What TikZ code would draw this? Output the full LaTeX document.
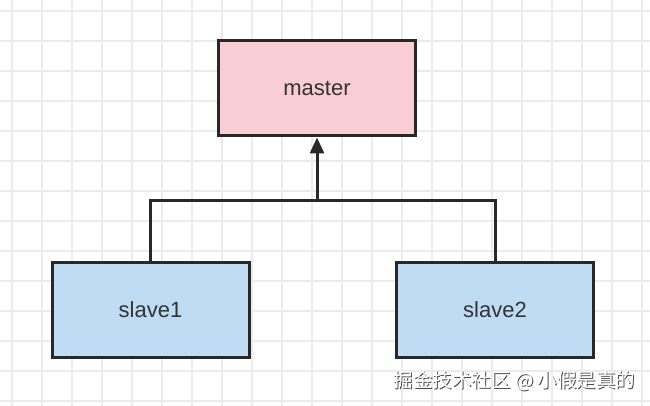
\documentclass[tikz,border=0pt]{standalone}
\usepackage{fontspec}
\setmainfont{Liberation Sans}
\newfontfamily\cjk{Noto Sans CJK SC}
\usetikzlibrary{arrows.meta}
\definecolor{gridc}{RGB}{235,235,235}
\definecolor{pinkf}{RGB}{248,206,212}
\definecolor{bluef}{RGB}{191,220,245}
\definecolor{edgec}{RGB}{40,40,40}
\begin{document}
\begin{tikzpicture}[x=1pt,y=-1pt,
  boxn/.style={draw=edgec,line width=3pt,minimum width=197pt,minimum height=95pt,inner sep=0pt,font=\fontsize{22}{24}\selectfont,text=black!80},
  conn/.style={draw=edgec,line width=3pt}]
\fill[white] (0,0) rectangle (650,406);
\useasboundingbox (0,0) rectangle (650,406);
\foreach \x in {12,42,...,642} \draw[gridc,line width=1.2pt] (\x,0) -- (\x,406);
\foreach \y in {11,41,...,401} \draw[gridc,line width=1.2pt] (0,\y) -- (650,\y);
\node[boxn,fill=pinkf] (m) at (317,88.5) {master};
\node[boxn,fill=bluef] (s1) at (150.5,309.5) {slave1};
\node[boxn,fill=bluef] (s2) at (495,309.5) {slave2};
\coordinate (j) at (317,200);
\draw[conn] (s1.north) |- (j) -| (s2.north);
\draw[conn,-{Triangle[length=16pt,width=14pt]}] (j) -- (m.south);
\node[font=\cjk\fontsize{19.5}{21}\selectfont,text=black!70,anchor=east] (ws) at (640,382) {掘金技术社区 @ 小假是真的};
\node[font=\cjk\fontsize{19.5}{21}\selectfont,text=white,anchor=east] (w) at (639,381) {掘金技术社区 @ 小假是真的};
\end{tikzpicture}
\end{document}
